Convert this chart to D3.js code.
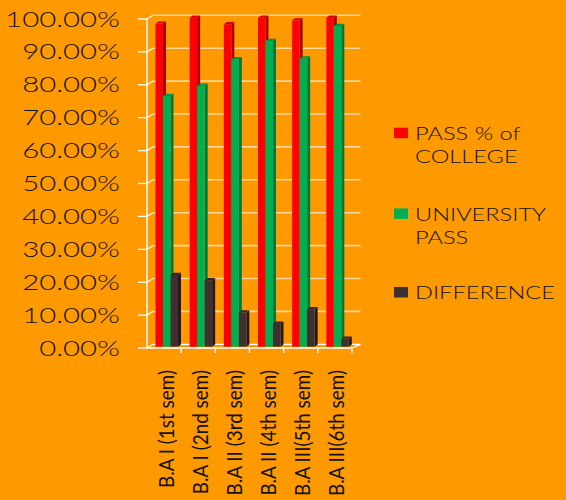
<!DOCTYPE html>
<html><head><meta charset="utf-8">
<script src="https://cdn.jsdelivr.net/npm/d3@7"></script>
<style>
html,body{margin:0;padding:0;background:#FF9900;}
svg{display:block;font-family:Lato,"DejaVu Sans",sans-serif;}
</style></head>
<body>
<svg id="chart" width="566" height="500"></svg>
<script>
const categories = ["B.A I (1st sem)","B.A I (2nd sem)","B.A II (3rd sem)","B.A II (4th sem)","B.A III(5th sem)","B.A III(6th sem)"];
const seriesNames = ["PASS % of COLLEGE","UNIVERSITY PASS","DIFFERENCE"];
const passCollege = [98.2, 100, 98, 100, 99.2, 100];
const universityPass = [76.2, 79.3, 87.4, 92.9, 87.6, 97.5];
const difference = [21.8, 20.2, 10.4, 7, 11.4, 2.4];
const yTicks = [0,10,20,30,40,50,60,70,80,90,100];
const legendLines = [["PASS % of","COLLEGE"],["UNIVERSITY","PASS"],["DIFFERENCE"]];

const colors = [
  {front:"#FF0000", side:"#A80000", top:"#D40000"},
  {front:"#00B050", side:"#00783A", top:"#009544"},
  {front:"#3E2F31", side:"#241A1B", top:"#33272A"}
];
const seriesVals = [passCollege, universityPass, difference];

const svg = d3.select("#chart");
svg.append("rect").attr("width",566).attr("height",500).attr("fill","#FF9900");

const x = d3.scaleBand().domain(categories).range([147, 352]);
const xs = d3.scaleBand().domain(seriesNames).range([8.5, 31]);
const y = d3.scaleLinear().domain([0,100]).range([348, 19]);
const yb = d3.scaleLinear().domain([0,100]).range([346.7, 17.7]);
const DX = 6, DY = -3.7;
const fmt = v => d3.format(".2%")(v/100);

const probe = svg.append("text").attr("x",-999).attr("y",-999);
function natW(str, size, wt){ probe.attr("font-size",size).attr("font-weight",wt||400).text(str); return probe.node().getComputedTextLength(); }

const grid = svg.append("g");
yTicks.forEach(t => {
  if (t > 0) {
    grid.append("line").attr("x1",147+DX).attr("x2",360.5).attr("y1",y(t)+DY).attr("y2",y(t)+DY)
      .attr("stroke","#FFD79A").attr("stroke-width",1.6);
  }
  grid.append("line").attr("x1",147).attr("y1",y(t)).attr("x2",147+DX).attr("y2",y(t)+DY)
    .attr("stroke","#FFF4E0").attr("stroke-width",1.3);
});
grid.append("line").attr("x1",147+DX).attr("x2",360.5).attr("y1",y(0)+DY).attr("y2",y(0)+DY)
  .attr("stroke","#FFFFFF").attr("stroke-width",1.3);
grid.append("line").attr("x1",352).attr("y1",y(0)).attr("x2",360.5).attr("y2",y(0)+DY)
  .attr("stroke","#FFFFFF").attr("stroke-width",1.3);

const bd = 3, bdy = -2.2;
categories.forEach((c, i) => {
  seriesNames.forEach((s, k) => {
    const v = seriesVals[k][i];
    const x0 = x(c) + xs(s), w = xs.bandwidth();
    const yt = yb(v), y0 = yb(0);
    const g = svg.append("g");
    g.append("path").attr("d", `M${x0+w},${y0} L${x0+w+bd},${y0+bdy} L${x0+w+bd},${yt+bdy} L${x0+w},${yt} Z`)
      .attr("fill", colors[k].side);
    g.append("path").attr("d", `M${x0},${yt} L${x0+bd},${yt+bdy} L${x0+w+bd},${yt+bdy} L${x0+w},${yt} Z`)
      .attr("fill", colors[k].top);
    g.append("rect").attr("x", x0).attr("y", yt).attr("width", w).attr("height", y0 - yt)
      .attr("fill", colors[k].front);
  });
});

svg.append("line").attr("x1",147).attr("x2",147).attr("y1",y(100)).attr("y2",y(0)).attr("stroke","#fff").attr("stroke-width",1.5);
svg.append("line").attr("x1",147).attr("x2",352).attr("y1",y(0)).attr("y2",y(0)).attr("stroke","#fff").attr("stroke-width",1.5);

const yFont = 21, yW = 300;
const ySx = 115 / natW("100.00%", yFont, yW);
yTicks.forEach(t => {
  svg.append("line").attr("x1",138).attr("x2",147).attr("y1",y(t)).attr("y2",y(t)).attr("stroke","#fff").attr("stroke-width",1.3);
  svg.append("g").attr("transform",`translate(120,${y(t)+7.5}) scale(${ySx},1)`)
    .append("text").attr("text-anchor","end").attr("font-size",yFont).attr("font-weight",yW).attr("fill","#111").text(fmt(t));
});

const xFont = 22;
const xSx = 118 / natW(categories[0], xFont, 400);
categories.forEach((c,i) => {
  const xe = x(c) + x.bandwidth();
  svg.append("line").attr("x1",xe).attr("x2",xe).attr("y1",y(0)).attr("y2",y(0)+5).attr("stroke","#fff").attr("stroke-width",1.3);
  svg.append("g").attr("transform",`translate(${x(c)+x.bandwidth()/2+9.5},370) rotate(-90) scale(${xSx},1)`)
    .append("text").attr("text-anchor","end").attr("font-size",xFont).attr("fill","#111").text(c);
});

const lFont = 18.5, lW = 300;
const lSx = 140 / natW("DIFFERENCE", lFont, lW);
const legY = [140, 220.7, 299.3];
legendLines.forEach((lines, k) => {
  svg.append("rect").attr("x",394).attr("y",legY[k]-12.3).attr("width",14).attr("height",10.5).attr("fill",colors[k].front);
  lines.forEach((ln, j) => {
    svg.append("g").attr("transform",`translate(415,${legY[k]+j*23}) scale(${lSx},1)`)
      .append("text").attr("font-size",lFont).attr("font-weight",lW).attr("fill","#111").text(ln);
  });
});
probe.remove();
</script>
</body></html>
